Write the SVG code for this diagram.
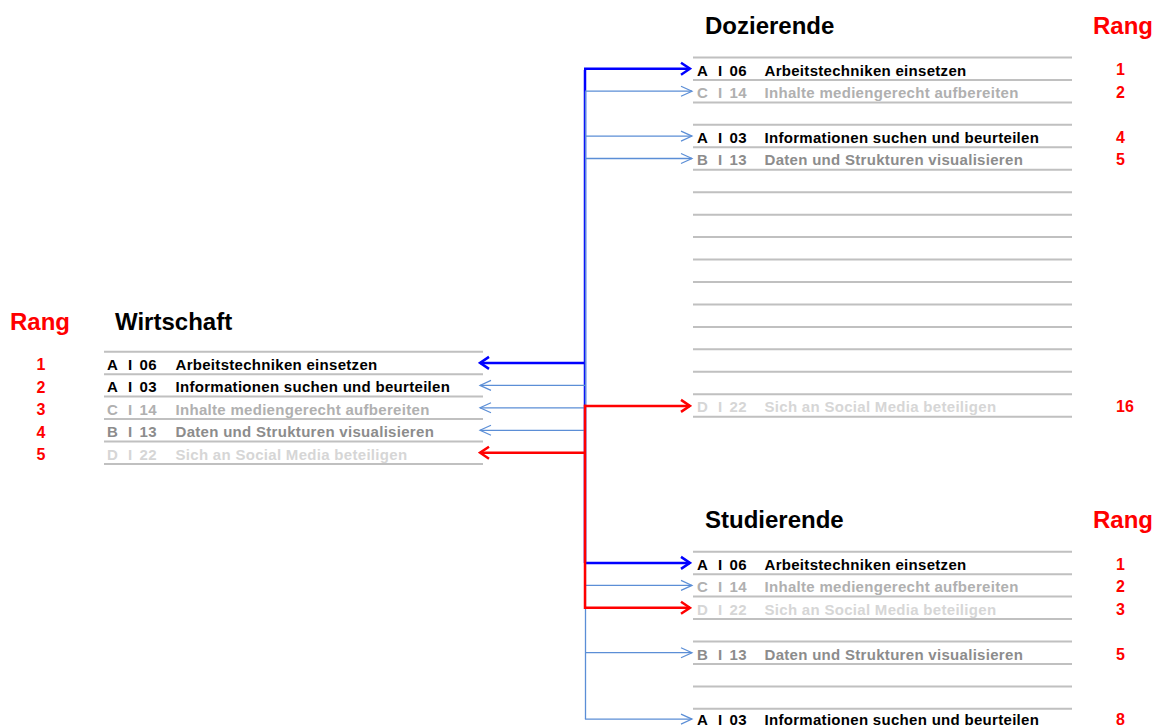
<svg xmlns="http://www.w3.org/2000/svg" width="1164" height="727" viewBox="0 0 1164 727">
<style>
  .bg{fill:#ffffff}
  .rule{stroke:#c0c0c0;stroke-width:2;fill:none}
  .h{font-family:"Liberation Sans",Arial,sans-serif;font-weight:bold;font-size:24px;fill:#000}
  .rang{font-family:"Liberation Sans",Arial,sans-serif;font-weight:bold;font-size:24px;fill:#ff0000}
  .rk{font-family:"Liberation Sans",Arial,sans-serif;font-weight:bold;font-size:16px;fill:#ff0000}
  .t{font-family:"Liberation Sans",Arial,sans-serif;font-weight:bold;font-size:15px;letter-spacing:0.3px}
  .k0{fill:#000000}
  .k1{fill:#b0b0b0}
  .k2{fill:#8c8c8c}
  .k3{fill:#d6d6d6}
  .cb{stroke:#0000ff;stroke-width:2.5;fill:none}
  .cl{stroke:#5b8ed6;stroke-width:1.3;fill:none}
  .cr{stroke:#ff0000;stroke-width:2.5;fill:none}
</style>
<defs>
  <marker id="mb" markerUnits="userSpaceOnUse" viewBox="-12 -8 14 16" refX="0" refY="0" markerWidth="14" markerHeight="16" orient="auto">
    <path d="M-9,-6 L0,0 L-9,6" fill="none" stroke="#0000ff" stroke-width="2.5"/>
  </marker>
  <marker id="ml" markerUnits="userSpaceOnUse" viewBox="-12 -8 14 16" refX="0" refY="0" markerWidth="14" markerHeight="16" orient="auto">
    <path d="M-11,-5 L0,0 L-11,5" fill="none" stroke="#5b8ed6" stroke-width="1.2"/>
  </marker>
  <marker id="mr" markerUnits="userSpaceOnUse" viewBox="-12 -8 14 16" refX="0" refY="0" markerWidth="14" markerHeight="16" orient="auto">
    <path d="M-9,-6 L0,0 L-9,6" fill="none" stroke="#ff0000" stroke-width="2.5"/>
  </marker>
</defs>
<rect class="bg" x="0" y="0" width="1164" height="727"/>

<!-- Dozierende -->
<g id="dozierende">
  <text class="h" x="705" y="33.5">Dozierende</text>
  <text class="rang" x="1093" y="33.5">Rang</text>
  <path class="rule" d="M693,57.5H1072M693,79.95H1072M693,102.4H1072M693,124.85H1072M693,147.3H1072M693,169.75H1072M693,192.2H1072M693,214.65H1072M693,237.1H1072M693,259.55H1072M693,282H1072M693,304.45H1072M693,326.9H1072M693,349.35H1072M693,371.8H1072M693,394.25H1072M693,416.7H1072"/>
  <g id="doz-r1" class="t k0"><text x="697" y="75.5">A</text><text x="718" y="75.5">I</text><text x="729.5" y="75.5">06</text><text x="764.5" y="75.5">Arbeitstechniken einsetzen</text></g>
  <g id="doz-r2" class="t k1"><text x="697" y="97.95">C</text><text x="718" y="97.95">I</text><text x="729.5" y="97.95">14</text><text x="764.5" y="97.95">Inhalte mediengerecht aufbereiten</text></g>
  <g id="doz-r4" class="t k0"><text x="697" y="142.85">A</text><text x="718" y="142.85">I</text><text x="729.5" y="142.85">03</text><text x="764.5" y="142.85">Informationen suchen und beurteilen</text></g>
  <g id="doz-r5" class="t k2"><text x="697" y="165.3">B</text><text x="718" y="165.3">I</text><text x="729.5" y="165.3">13</text><text x="764.5" y="165.3">Daten und Strukturen visualisieren</text></g>
  <g id="doz-r16" class="t k3"><text x="697" y="411.5">D</text><text x="718" y="411.5">I</text><text x="729.5" y="411.5">22</text><text x="764.5" y="411.5">Sich an Social Media beteiligen</text></g>
  <g class="rk"><text x="1116" y="75">1</text><text x="1116" y="97.5">2</text><text x="1116" y="142.5">4</text><text x="1116" y="165">5</text><text x="1116" y="411.5">16</text></g>
</g>

<!-- Wirtschaft -->
<g id="wirtschaft">
  <text class="rang" x="10" y="330">Rang</text>
  <text class="h" x="115" y="330">Wirtschaft</text>
  <path class="rule" d="M104,351.7H483M104,374.15H483M104,396.6H483M104,419.05H483M104,441.5H483M104,463.95H483"/>
  <g id="wirt-r1" class="t k0"><text x="107" y="369.7">A</text><text x="128" y="369.7">I</text><text x="139.5" y="369.7">06</text><text x="175.5" y="369.7">Arbeitstechniken einsetzen</text></g>
  <g id="wirt-r2" class="t k0"><text x="107" y="392.15">A</text><text x="128" y="392.15">I</text><text x="139.5" y="392.15">03</text><text x="175.5" y="392.15">Informationen suchen und beurteilen</text></g>
  <g id="wirt-r3" class="t k1"><text x="107" y="414.6">C</text><text x="128" y="414.6">I</text><text x="139.5" y="414.6">14</text><text x="175.5" y="414.6">Inhalte mediengerecht aufbereiten</text></g>
  <g id="wirt-r4" class="t k2"><text x="107" y="437.05">B</text><text x="128" y="437.05">I</text><text x="139.5" y="437.05">13</text><text x="175.5" y="437.05">Daten und Strukturen visualisieren</text></g>
  <g id="wirt-r5" class="t k3"><text x="107" y="459.5">D</text><text x="128" y="459.5">I</text><text x="139.5" y="459.5">22</text><text x="175.5" y="459.5">Sich an Social Media beteiligen</text></g>
  <g class="rk"><text x="36.5" y="370">1</text><text x="36.5" y="392.5">2</text><text x="36.5" y="415">3</text><text x="36.5" y="437.5">4</text><text x="36.5" y="460">5</text></g>
</g>

<!-- Studierende -->
<g id="studierende">
  <text class="h" x="705" y="528">Studierende</text>
  <text class="rang" x="1093" y="528">Rang</text>
  <path class="rule" d="M693,551.7H1072M693,574.15H1072M693,596.6H1072M693,619.05H1072M693,641.5H1072M693,663.95H1072M693,686.4H1072M693,708.85H1072M693,731.3H1072"/>
  <g id="stud-r1" class="t k0"><text x="697" y="569.7">A</text><text x="718" y="569.7">I</text><text x="729.5" y="569.7">06</text><text x="764.5" y="569.7">Arbeitstechniken einsetzen</text></g>
  <g id="stud-r2" class="t k1"><text x="697" y="592.15">C</text><text x="718" y="592.15">I</text><text x="729.5" y="592.15">14</text><text x="764.5" y="592.15">Inhalte mediengerecht aufbereiten</text></g>
  <g id="stud-r3" class="t k3"><text x="697" y="614.6">D</text><text x="718" y="614.6">I</text><text x="729.5" y="614.6">22</text><text x="764.5" y="614.6">Sich an Social Media beteiligen</text></g>
  <g id="stud-r5" class="t k2"><text x="697" y="659.5">B</text><text x="718" y="659.5">I</text><text x="729.5" y="659.5">13</text><text x="764.5" y="659.5">Daten und Strukturen visualisieren</text></g>
  <g id="stud-r8" class="t k0"><text x="697" y="724.5">A</text><text x="718" y="724.5">I</text><text x="729.5" y="724.5">03</text><text x="764.5" y="724.5">Informationen suchen und beurteilen</text></g>
  <g class="rk"><text x="1116" y="569.5">1</text><text x="1116" y="592">2</text><text x="1116" y="614.5">3</text><text x="1116" y="659.5">5</text><text x="1116" y="724.5">8</text></g>
</g>

<!-- Connectors -->
<g id="connectors">
  <g id="conn-blue">
    <path class="cb" d="M585,69.9V563"/>
    <path class="cb" d="M584,68.7H690" marker-end="url(#mb)"/>
    <path class="cb" d="M585,362.9H480" marker-end="url(#mb)"/>
    <path class="cb" d="M585,562.9H690" marker-end="url(#mb)"/>
  </g>
  <g id="conn-light">
    <path class="cl" d="M585.5,91.2V719.1"/>
    <path class="cl" d="M585,91.2H692" marker-end="url(#ml)"/>
    <path class="cl" d="M585,136.1H692" marker-end="url(#ml)"/>
    <path class="cl" d="M585,158.5H692" marker-end="url(#ml)"/>
    <path class="cl" d="M585,385.4H480" marker-end="url(#ml)"/>
    <path class="cl" d="M585,407.8H480" marker-end="url(#ml)"/>
    <path class="cl" d="M585,430.3H480" marker-end="url(#ml)"/>
    <path class="cl" d="M585,585.4H692" marker-end="url(#ml)"/>
    <path class="cl" d="M585,652.7H692" marker-end="url(#ml)"/>
    <path class="cl" d="M584.9,719.1H692" marker-end="url(#ml)"/>
  </g>
  <g id="conn-red">
    <path class="cr" d="M585,404.7V609"/>
    <path class="cr" d="M584,405.9H690" marker-end="url(#mr)"/>
    <path class="cr" d="M585,452.7H480" marker-end="url(#mr)"/>
    <path class="cr" d="M584,607.8H690" marker-end="url(#mr)"/>
  </g>
</g>
</svg>
